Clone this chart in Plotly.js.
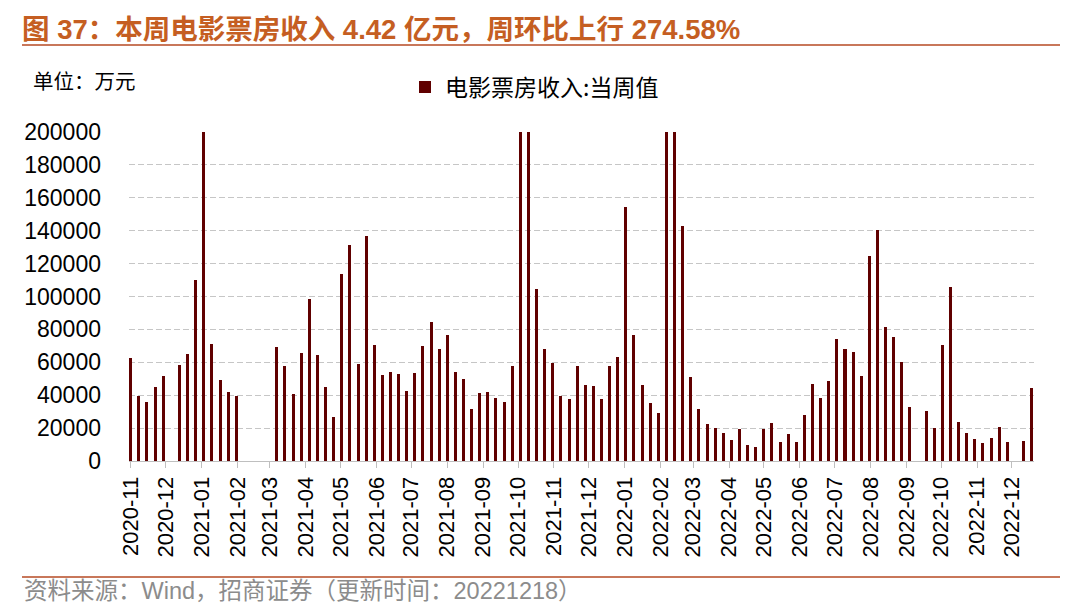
<!DOCTYPE html>
<html>
<head>
<meta charset="utf-8">
<script src="https://cdn.plot.ly/plotly-3.0.1.min.js"></script>
<style>
html,body{margin:0;padding:0;background:#fff;}
#chart{width:1080px;height:616px;}
</style>
</head>
<body>
<div id="chart"></div>
<script>
// Week-ending dates (weekly, Sundays)
const weeks = [
  "2020-11-01","2020-11-08","2020-11-15","2020-11-22","2020-11-29","2020-12-06","2020-12-13","2020-12-20","2020-12-27",
  "2021-01-03","2021-01-10","2021-01-17","2021-01-24","2021-01-31","2021-02-07","2021-02-14","2021-02-21","2021-02-28",
  "2021-03-07","2021-03-14","2021-03-21","2021-03-28","2021-04-04","2021-04-11","2021-04-18","2021-04-25",
  "2021-05-02","2021-05-09","2021-05-16","2021-05-23","2021-05-30","2021-06-06","2021-06-13","2021-06-20","2021-06-27",
  "2021-07-04","2021-07-11","2021-07-18","2021-07-25","2021-08-01","2021-08-08","2021-08-15","2021-08-22","2021-08-29",
  "2021-09-05","2021-09-12","2021-09-19","2021-09-26","2021-10-03","2021-10-10","2021-10-17","2021-10-24","2021-10-31",
  "2021-11-07","2021-11-14","2021-11-21","2021-11-28","2021-12-05","2021-12-12","2021-12-19","2021-12-26",
  "2022-01-02","2022-01-09","2022-01-16","2022-01-23","2022-01-30","2022-02-06","2022-02-13","2022-02-20","2022-02-27",
  "2022-03-06","2022-03-13","2022-03-20","2022-03-27","2022-04-03","2022-04-10","2022-04-17","2022-04-24",
  "2022-05-01","2022-05-08","2022-05-15","2022-05-22","2022-05-29","2022-06-05","2022-06-12","2022-06-19","2022-06-26",
  "2022-07-03","2022-07-10","2022-07-17","2022-07-24","2022-07-31","2022-08-07","2022-08-14","2022-08-21","2022-08-28",
  "2022-09-04","2022-09-11","2022-09-18","2022-09-25","2022-10-02","2022-10-09","2022-10-16","2022-10-23","2022-10-30",
  "2022-11-06","2022-11-13","2022-11-20","2022-11-27","2022-12-04","2022-12-11","2022-12-18"
];

// 电影票房收入:当周值 (万元); null = no data that week; values above 200000 are cut off by the axis
const boxOffice = [
  62500, 39500, 36100, 44800, 51500, null, 58600, 64900, 110300,
  230000, 71200, 49500, 42200, 39500, null, null, null, null,
  69500, 58000, 40700, 65900, 98700, 64400, 44800, 27000,
  113700, 131100, 58800, 136600, 70700, 52100, 54300, 53100, 42600,
  53700, 69900, 84500, 67900, 76600, 54300, 49800, 31800, 41500,
  42200, 38100, 35900, 58000, 390000, 240000, 104700, 68200, 59600,
  39400, 37500, 57600, 46500, 45800, 37700, 57800, 63300,
  154200, 76500, 46500, 35500, 29400, 600000, 260000, 142800, 51000,
  31500, 22400, 20300, 16900, 12800, 19300, 9800, 8500,
  19700, 22800, 11600, 16700, 11400, 27700, 46800, 38200, 48800,
  74100, 68200, 66300, 51900, 124500, 140400, 81400, 75600, 60100,
  32900, null, 30300, 20100, 70700, 105800, 23600, 16900, 13600,
  10800, 13800, 20700, 11400, null, 12000, 44200
];

const seriesName = "电影票房收入:当周值";
const chartTitle = "图 37：本周电影票房收入 4.42 亿元，周环比上行 274.58%";
const unitLabel = "单位：万元";
const sourceLabel = "资料来源：Wind，招商证券（更新时间：20221218）";

const W = 1080, H = 616;
const ML = 129, MR = 46, MT = 132, MB = 155;
const PW = W - ML - MR, PH = H - MT - MB;
const px = x => (x - ML) / PW;
const py = y => (H - MB - y) / PH;

const cjk = '"Liberation Sans", Arial, "Noto Sans CJK SC", sans-serif';

const trace = {
  type: 'bar',
  x: weeks,
  y: boxOffice,
  name: seriesName,
  width: 2.6 * 86400000,
  marker: {color: '#600000', line: {width: 0}},
  showlegend: true
};

const layout = {
  width: W, height: H,
  margin: {l: ML, r: MR, t: MT, b: MB, pad: 0},
  paper_bgcolor: '#ffffff',
  plot_bgcolor: '#ffffff',
  font: {family: cjk, color: '#000'},
  title: {
    text: '<b>' + chartTitle + '</b>',
    x: 22 / W, xref: 'container', xanchor: 'left',
    y: 1 - 29 / H, yref: 'container', yanchor: 'middle',
    font: {family: cjk, size: 27.5, color: '#C55E22'}
  },
  showlegend: true,
  legend: {
    orientation: 'h',
    x: px(405), xanchor: 'left',
    y: py(87), yanchor: 'middle',
    font: {family: '"Noto Sans CJK SC", sans-serif', size: 23, color: '#000'},
    bgcolor: 'rgba(0,0,0,0)',
    itemwidth: 30
  },
  xaxis: {
    type: 'date',
    range: ['2020-10-30 12:00', '2022-12-20 00:00'],
    tick0: '2020-11-01',
    dtick: 'M1',
    tickformat: '%Y-%m',
    tickangle: -90,
    ticks: 'outside',
    ticklen: 6,
    tickcolor: '#bfbfbf',
    tickwidth: 1,
    showline: true,
    linecolor: '#bfbfbf',
    linewidth: 1,
    showgrid: false,
    zeroline: false,
    tickfont: {family: '"Liberation Sans", Arial, sans-serif', size: 22, color: '#000'},
    fixedrange: true
  },
  yaxis: {
    range: [0, 200000],
    dtick: 20000,
    tickformat: 'd',
    showgrid: true,
    gridcolor: '#c6c6c6',
    gridwidth: 1,
    griddash: '6px,3px',
    showline: false,
    zeroline: false,
    ticks: '',
    ticklabelstandoff: 27,
    tickfont: {family: '"Liberation Sans", Arial, sans-serif', size: 23, color: '#000'},
    fixedrange: true
  },
  shapes: [
    {type: 'line', xref: 'paper', yref: 'paper', x0: px(22), x1: px(1060), y0: py(45), y1: py(45),
     line: {color: '#C8775A', width: 2}},
    {type: 'line', xref: 'paper', yref: 'paper', x0: px(22), x1: px(1060), y0: py(577), y1: py(577),
     line: {color: '#C8775A', width: 2}}
  ],
  annotations: [
    {text: unitLabel, xref: 'paper', yref: 'paper', x: px(31), y: py(80), xanchor: 'left', yanchor: 'middle',
     showarrow: false, font: {family: '"Noto Sans CJK SC", sans-serif', size: 20.5, color: '#000'}},
    {text: sourceLabel, xref: 'paper', yref: 'paper', x: px(22), y: py(591), xanchor: 'left', yanchor: 'middle',
     showarrow: false, font: {family: cjk, size: 23.5, color: '#8c8c8c'}}
  ],
  bargap: 0
};

Plotly.newPlot('chart', [trace], layout, {displayModeBar: false, staticPlot: true});
</script>
</body>
</html>
